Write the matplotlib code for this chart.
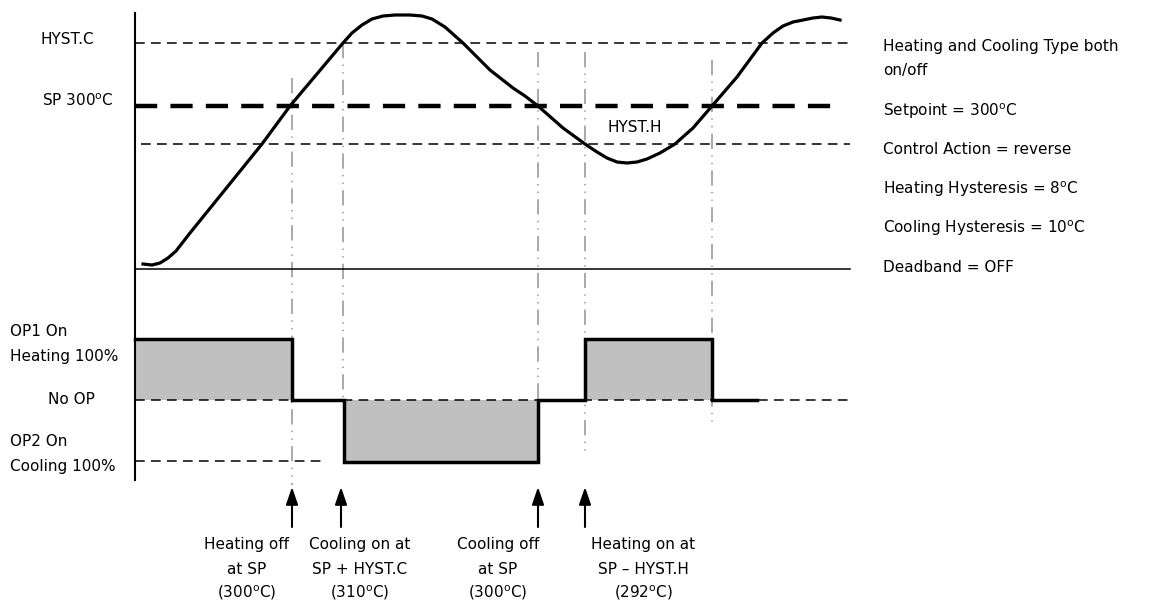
import matplotlib
matplotlib.use("Agg")
import matplotlib.pyplot as plt

plt.rcParams['font.family'] = ['DejaVu Sans']
plt.rcParams['lines.scale_dashes'] = False
plt.rcParams['mathtext.fontset'] = 'dejavusans'

DEG = r"$^{\rm o}$"

# ---- data (diagram units: x = time, y = level on the schematic) ----
# process value curve
curve_t = [143, 152, 160, 168, 176, 190, 262, 290, 343, 352, 362, 372, 383, 395, 410,
           422, 432, 445, 463, 490, 513, 525, 538, 563, 585, 597, 607, 617, 627, 637,
           647, 660, 675, 693, 712, 737, 762, 773, 783, 793, 803, 813, 822, 831, 840]
curve_pv = [264, 265, 263, 258, 251, 233, 144, 106, 43, 33, 25, 19, 16, 15, 15,
            16, 19, 27, 43, 70, 88, 96, 106, 128, 144, 152, 158, 162, 163, 162,
            159, 153, 144, 128, 106, 77, 43, 33, 26, 22, 20, 18, 17, 18, 20]

# reference levels on the PV panel
level_hyst_c = 43
level_sp = 106
level_hyst_h = 144
level_base = 269

# output levels
out_heat = 339
out_none = 400
out_cool = 462

# output step trace (time, level)
out_t = [135, 292, 292, 344, 344, 538, 538, 585, 585, 712, 712, 757]
out_lv = [out_heat, out_heat, out_none, out_none, out_cool, out_cool,
          out_none, out_none, out_heat, out_heat, out_none, out_none]

# shaded output blocks: (start, end, level)
blocks = [(135, 292, out_heat), (344, 538, out_cool), (585, 712, out_heat)]

# switching events: time, top, bottom of marker line
events_t = [292, 343, 538, 585, 712]
events_top = [78, 43, 52, 52, 60]
events_bot = [485, 400, 400, 455, 425]

# annotations
arrow_t = [292, 341, 538, 585]
label_t = [247, 360, 498, 643]
labels = [
    ["Heating off", "at SP", "(300" + DEG + "C)"],
    ["Cooling on at", "SP + HYST.C", "(310" + DEG + "C)"],
    ["Cooling off", "at SP", "(300" + DEG + "C)"],
    ["Heating on at", "SP \u2013 HYST.H", "(292" + DEG + "C)"],
]

notes = [
    ("Heating and Cooling Type both", 46),
    ("on/off", 71),
    ("Setpoint = 300" + DEG + "C", 111),
    ("Control Action = reverse", 150),
    ("Heating Hysteresis = 8" + DEG + "C", 189),
    ("Cooling Hysteresis = 10" + DEG + "C", 228),
    ("Deadband = OFF", 267),
]

# ---- drawing ----
fig = plt.figure(figsize=(11.52, 6.06), dpi=100)
ax = fig.add_axes([0, 0, 1, 1])
ax.set_xlim(0, 1152)
ax.set_ylim(606, 0)
ax.axis('off')

FS = 11
thin_dash = (0, (7, 4.5))
grey_dd = (0, (11, 4.5, 1, 4.5, 1, 4.5))

# gray event lines
for t, top, bot in zip(events_t, events_top, events_bot):
    ax.plot([t, t], [top, bot], color='#a3a3a3', lw=1.3, ls=grey_dd, zorder=1)

# reference lines
ax.plot([135, 850], [level_hyst_c, level_hyst_c], color='black', lw=1.1, ls=thin_dash, zorder=2)
ax.plot([141, 850], [level_hyst_h, level_hyst_h], color='black', lw=1.1, ls=thin_dash, zorder=2)
ax.plot([135, 843], [level_sp, level_sp], color='black', lw=3.2, ls=(0, (16, 9.5)), zorder=2)
ax.plot([135, 850], [level_base, level_base], color='black', lw=1.1, zorder=2)

# axis
ax.plot([135, 135], [13, 480], color='black', lw=1.5, zorder=4)

# PV curve
ax.plot(curve_t, curve_pv, color='black', lw=2.3, zorder=3, solid_joinstyle='round')

# output panel
for s, e, lv in blocks:
    ax.fill_between([s, e], [lv, lv], [out_none, out_none], color='#c0c0c0', lw=0, zorder=1)
ax.plot([135, 850], [out_none, out_none], color='black', lw=1.1, ls=thin_dash, zorder=2)
ax.plot([135, 325], [out_cool - 1, out_cool - 1], color='black', lw=1.1, ls=thin_dash, zorder=2)
ax.plot(out_t, out_lv, color='black', lw=2.5, zorder=3, solid_joinstyle='miter')

# arrows
for t in arrow_t:
    ax.annotate('', xy=(t, 487), xytext=(t, 527),
                arrowprops=dict(arrowstyle='-|>,head_length=1.05,head_width=0.36',
                                color='black', lw=1.5, shrinkA=0, shrinkB=0,
                                mutation_scale=10))

# event labels
for t, lines in zip(label_t, labels):
    for ln, y in zip(lines, [545, 569, 593]):
        ax.text(t, y, ln, ha='center', va='center', fontsize=FS)

# left labels
ax.text(40, 40, "HYST.C", ha='left', va='center', fontsize=FS)
ax.text(42, 101, "SP 300" + DEG + "C", ha='left', va='center', fontsize=FS)
ax.text(10, 332, "OP1 On", ha='left', va='center', fontsize=FS)
ax.text(10, 357, "Heating 100%", ha='left', va='center', fontsize=FS)
ax.text(48, 399, "No OP", ha='left', va='center', fontsize=FS)
ax.text(10, 441, "OP2 On", ha='left', va='center', fontsize=FS)
ax.text(10, 467, "Cooling 100%", ha='left', va='center', fontsize=FS)
ax.text(635, 127, "HYST.H", ha='center', va='center', fontsize=FS)

# notes on the right
for txt, y in notes:
    ax.text(883, y, txt, ha='left', va='center', fontsize=FS)

fig.savefig("out.png", dpi=100, facecolor='white')
